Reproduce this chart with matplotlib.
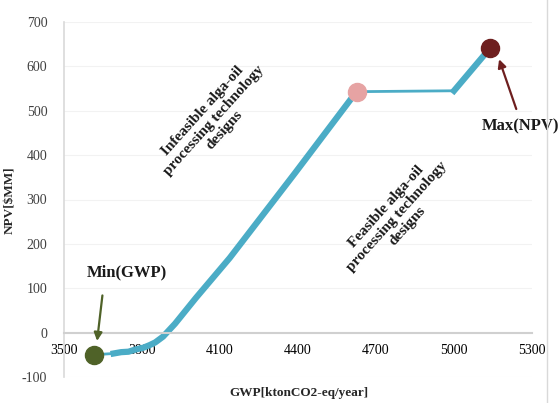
import matplotlib
matplotlib.use("Agg")
import matplotlib.pyplot as plt

plt.rcParams["font.family"] = ["Liberation Serif", "DejaVu Serif"]

# Pareto front, GWP [ktonCO2-eq/year] vs NPV [$MM]
gwp_start = [3614, 3691]
npv_start = [-50, -47]

gwp_rise = [3691, 3720, 3748, 3775, 3805, 3830, 3851, 3881, 3927, 4007, 4137, 4263, 4389, 4625]
npv_rise = [-47, -44, -43, -38, -34, -28, -22, -9, 20, 78, 168, 264, 360, 543]

gwp_flat = [4625, 5000]
npv_flat = [543, 545]

gwp_top = [5000, 5140]
npv_top = [545, 642]

min_gwp = (3614, -50)
feasible_start = (4625, 543)
max_npv = (5140, 642)

x_ticks = [3500, 3800, 4100, 4400, 4700, 5000, 5300]
y_ticks = [-100, 0, 100, 200, 300, 400, 500, 600, 700]

line_col = "#4bacc6"

fig = plt.figure(figsize=(5.58, 4.03), dpi=100)
ax = fig.add_axes([64 / 558, 1 - 377 / 403, (532 - 64) / 558, (377 - 22) / 403])

ax.plot(gwp_start, npv_start, color=line_col, lw=2, solid_capstyle="round")
ax.plot(gwp_rise, npv_rise, color=line_col, lw=4.5, solid_joinstyle="round")
ax.plot(gwp_flat, npv_flat, color=line_col, lw=2)
ax.plot(gwp_top, npv_top, color=line_col, lw=4.5)

ax.plot(*min_gwp, "o", ms=13, color="#4f6228", zorder=5)
ax.plot(*feasible_start, "o", ms=13, color="#e6a3a3", zorder=5)
ax.plot(*max_npv, "o", ms=13, color="#6e1f1f", zorder=5)

ax.set_xlim(3500, 5300)
ax.set_ylim(-100, 700)
ax.set_xticks(x_ticks)
ax.set_yticks(y_ticks)
ax.set_xticklabels([str(v) for v in x_ticks], fontsize=10, color="#404040")
ax.set_yticklabels([str(v) for v in y_ticks], fontsize=10, color="#404040")
ax.tick_params(length=0)
ax.tick_params(axis="x", pad=8)
ax.tick_params(axis="y", pad=12)

ax.spines["bottom"].set_position(("data", 0))
ax.spines["bottom"].set_color("#d0d0d0")
ax.spines["bottom"].set_linewidth(1.5)
ax.spines["left"].set_color("#d9d9d9")
ax.spines["left"].set_linewidth(1.2)
ax.spines["top"].set_visible(False)
ax.spines["right"].set_visible(False)
ax.grid(axis="y", color="#f2f2f2", lw=0.8)
ax.set_axisbelow(True)

fig.text(299 / 558, 1 - 393 / 403, "GWP[ktonCO2-eq/year]", ha="center", va="center",
         fontsize=9.5, fontweight="bold", color="#262626")
fig.text(10 / 558, 1 - 200 / 403, "NPV[$MM]", ha="center", va="center", rotation=90,
         fontsize=9.5, fontweight="bold", color="#262626")

ax.text(3740, 135, "Min(GWP)", ha="center", va="center",
        fontsize=12, fontweight="bold", color="#1a1a1a")
ax.annotate("", xy=(3626, -25), xytext=(3649, 90),
            arrowprops=dict(arrowstyle="-|>", color="#4f6228", lw=1.6, mutation_scale=12))

ax.text(5254, 464, "Max(NPV)", ha="center", va="center", fontsize=12,
        fontweight="bold", color="#1a1a1a", clip_on=False)
ax.annotate("", xy=(5170, 622), xytext=(5243, 498),
            arrowprops=dict(arrowstyle="-|>", color="#6e1f1f", lw=1.6, mutation_scale=12))

ax.text(4075, 478, "Infeasible alga-oil\nprocessing technology\ndesigns", ha="center",
        va="center", rotation=48, fontsize=11, fontweight="bold", color="#1a1a1a",
        linespacing=1.15, rotation_mode="anchor")
ax.text(4780, 262, "Feasible alga-oil\nprocessing technology\ndesigns", ha="center",
        va="center", rotation=48, fontsize=11, fontweight="bold", color="#1a1a1a",
        linespacing=1.15, rotation_mode="anchor")

fig.add_artist(plt.Line2D([547 / 558, 547 / 558], [0, 1], color="#d9d9d9", lw=1))

fig.savefig("out.png", dpi=100)
